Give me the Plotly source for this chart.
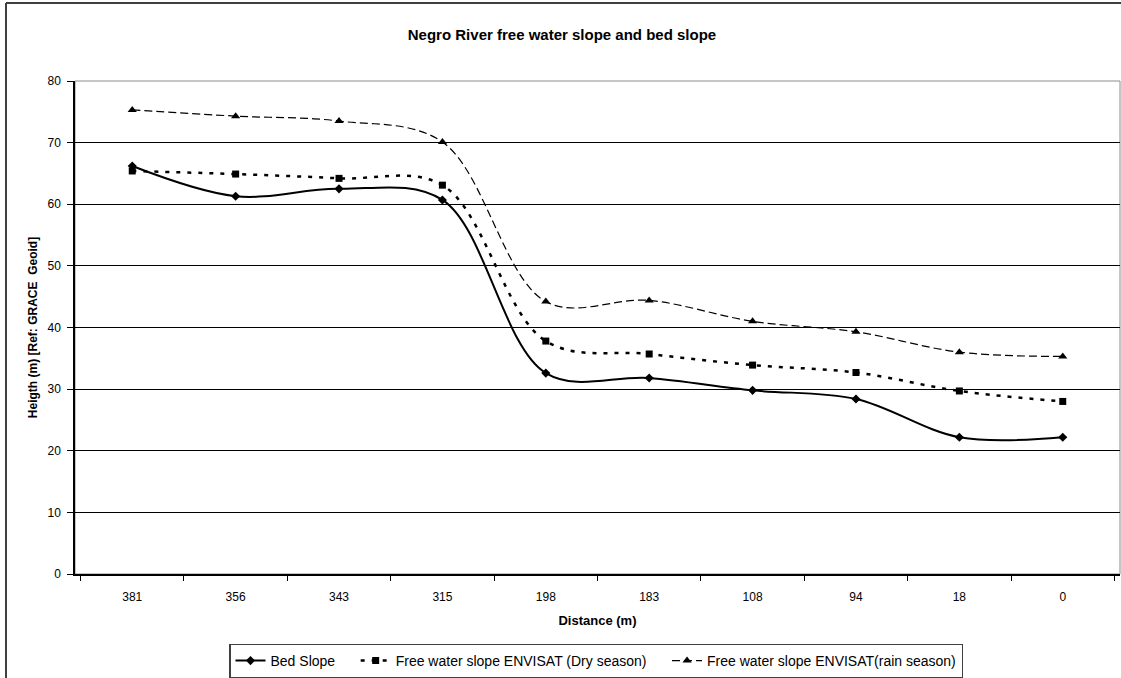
import plotly.graph_objects as go

distance = ["381", "356", "343", "315", "198", "183", "108", "94", "18", "0"]
bed_slope = [66.2, 61.3, 62.5, 60.7, 32.6, 31.8, 29.8, 28.4, 22.2, 22.2]
dry_season = [65.4, 64.9, 64.2, 63.1, 37.8, 35.7, 33.9, 32.7, 29.7, 28.0]
rain_season = [75.3, 74.3, 73.5, 70.1, 44.2, 44.4, 41.0, 39.3, 36.0, 35.3]

W, H = 1121, 678
L, R, T, B = 75, 1, 81, 104
pw = W - L - R
ph = H - T - B

def px_x(x):
    return (x - L) / pw

def px_y(y):
    return (H - B - y) / ph

FONT = "Liberation Sans, Arial, sans-serif"
NB = "\u00a0"

fig = go.Figure()
fig.add_trace(go.Scatter(
    x=distance, y=bed_slope, name="Bed Slope" + NB * 4, mode="lines+markers",
    line=dict(color="black", width=2, shape="spline", smoothing=1),
    marker=dict(symbol="diamond", size=7, color="black"),
))
fig.add_trace(go.Scatter(
    x=distance, y=dry_season, name="Free water slope ENVISAT (Dry season)" + NB * 4,
    mode="lines+markers",
    line=dict(color="black", width=2.5, dash="4px,7px", shape="spline", smoothing=1),
    marker=dict(symbol="square", size=7, color="black"),
))
fig.add_trace(go.Scatter(
    x=distance, y=rain_season, name="Free water slope ENVISAT(rain season)",
    mode="lines+markers",
    line=dict(color="black", width=1.2, dash="8px,4px", shape="spline", smoothing=1),
    marker=dict(symbol="triangle-up", size=8, color="black"),
))

shapes = [
    dict(type="rect", xref="paper", yref="paper", x0=0, x1=1, y0=0, y1=1,
         line=dict(color="#8c8c8c", width=1), layer="below"),
    dict(type="line", xref="paper", yref="paper", x0=px_x(6), x1=px_x(6),
         y0=px_y(3), y1=px_y(H + 5), line=dict(color="#404040", width=2)),
    dict(type="line", xref="paper", yref="paper", x0=px_x(6), x1=px_x(W + 5),
         y0=px_y(3), y1=px_y(3), line=dict(color="#404040", width=2)),
]

fig.update_layout(
    width=W, height=H,
    margin=dict(l=L, r=R, t=T, b=B, pad=0, autoexpand=False),
    paper_bgcolor="white", plot_bgcolor="white",
    font=dict(family=FONT, size=11, color="black"),
    title=dict(text="<b>Negro River free water slope and bed slope</b>",
               x=px_x(562), xref="paper", xanchor="center",
               y=1 - 35 / H, yanchor="middle",
               font=dict(family=FONT, size=15, color="black")),
    showlegend=True,
    legend=dict(orientation="h", x=px_x(596), xanchor="center",
                y=px_y(661), yanchor="middle",
                bordercolor="#404040", borderwidth=1.5, bgcolor="white",
                font=dict(family=FONT, size=14, color="black"),
                itemwidth=30, tracegroupgap=0),
    shapes=shapes,
    xaxis=dict(
        type="category", categoryorder="array", categoryarray=distance,
        tickson="boundaries", ticks="outside", ticklen=5, tickcolor="black",
        showline=True, linecolor="black", linewidth=1.5, showgrid=False,
        tickfont=dict(family=FONT, size=12, color="black"),
        ticklabelstandoff=11, automargin=False,
        title=dict(text="<b>Distance (m)</b>", standoff=13,
                   font=dict(family=FONT, size=13, color="black")),
        zeroline=False,
    ),
    yaxis=dict(
        range=[0, 80], dtick=10, tick0=0,
        ticks="outside", ticklen=6, tickcolor="black",
        showline=True, linecolor="black", linewidth=1.5,
        showgrid=True, gridcolor="black", gridwidth=1,
        zeroline=False, automargin=False,
        tickfont=dict(family=FONT, size=12, color="black"),
        ticklabelstandoff=4,
        title=dict(text="<b>Heigth (m) [Ref: GRACE  Geoid]</b>", standoff=7,
                   font=dict(family=FONT, size=12, color="black")),
    ),
)

fig.write_html(
    "out.html",
    config={"displayModeBar": False},
    post_script="document.body.style.margin='0';document.body.style.overflow='hidden';",
)
